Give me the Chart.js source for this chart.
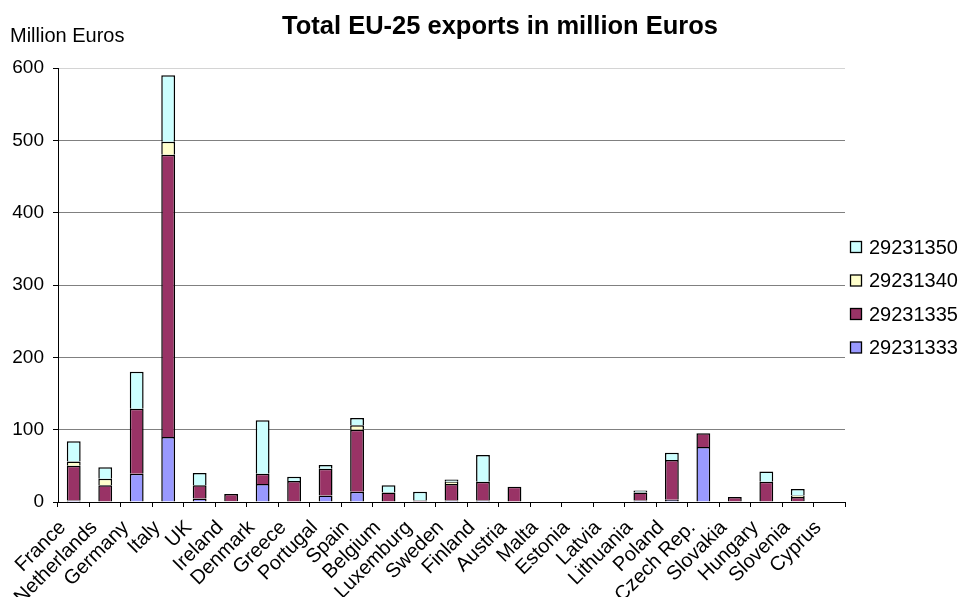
<!DOCTYPE html>
<html>
<head>
<meta charset="utf-8">
<title>Total EU-25 exports</title>
<script src="https://cdn.jsdelivr.net/npm/chart.js@4.4.1/dist/chart.umd.min.js"></script>
<style>
  body { margin: 0; background: #fff; }
</style>
</head>
<body>
<canvas id="exports" width="964" height="597"></canvas>
<script>
// --- DATA ---

const countries = ["France", "Netherlands", "Germany", "Italy", "UK", "Ireland", "Denmark",
  "Greece", "Portugal", "Spain", "Belgium", "Luxemburg", "Sweden", "Finland", "Austria",
  "Malta", "Estonia", "Latvia", "Lithuania", "Poland", "Czech Rep.", "Slovakia", "Hungary",
  "Slovenia", "Cyprus"];

// million Euros per product code, same order as countries
const code29231333 = [2, 0, 39, 90, 5, 1, 25, 0, 9, 14, 0, 0, 2, 2, 0, 0, 0, 0, 2, 3, 76, 0, 0, 1, 0];
const code29231335 = [48, 23, 90, 390, 18, 10, 14, 29, 37, 86, 13, 2, 23, 26, 21, 0, 0, 0, 11, 55, 19, 7, 28, 6, 0];
const code29231340 = [6, 9, 0, 18, 0, 0, 0, 0, 0, 6, 0, 0, 3, 0, 0, 0, 0, 0, 0, 0, 0, 0, 0, 2, 0];
const code29231350 = [28, 16, 51, 92, 17, 0, 74, 6, 5, 10, 10, 12, 3, 37, 0, 0, 0, 0, 3, 10, 0, 0, 14, 9, 0];

const yTicks = [0, 100, 200, 300, 400, 500, 600];

const TITLE = "Total EU-25 exports in million Euros";
const UNIT = "Million Euros";
const FONT = "'Liberation Sans', Arial, sans-serif";

// --- DATASETS ---

function makeSeries(label, data, color) {
  return {
    label: label,
    data: data,
    backgroundColor: color,
    borderColor: "#000",
    borderWidth: 1.5,
    categoryPercentage: 1,
    barPercentage: 0.44,
  };
}

const datasets = [
  makeSeries("29231333", code29231333, "#9999FF"),
  makeSeries("29231335", code29231335, "#993366"),
  makeSeries("29231340", code29231340, "#FFFFCC"),
  makeSeries("29231350", code29231350, "#CCFFFF"),
];

// title, unit caption and legend are painted by hand so they sit where we want them
const extraText = {
  id: "extraText",
  afterDraw(chart) {
    const ctx = chart.ctx;
    ctx.save();
    ctx.fillStyle = "#000";
    ctx.textBaseline = "alphabetic";

    ctx.font = "bold 25.5px " + FONT;
    ctx.textAlign = "center";
    ctx.fillText(TITLE, 500, 34);

    ctx.font = "20px " + FONT;
    ctx.textAlign = "left";
    ctx.fillText(UNIT, 10, 42);

    // legend, top item = last dataset
    const sets = chart.data.datasets;
    sets.slice().reverse().forEach((ds, i) => {
      const cy = 247 + i * 33.5;
      ctx.fillStyle = ds.backgroundColor;
      ctx.fillRect(850.5, cy - 5.5, 11, 11);
      ctx.strokeStyle = "#000";
      ctx.lineWidth = 1.3;
      ctx.strokeRect(850.5, cy - 5.5, 11, 11);
      ctx.fillStyle = "#000";
      ctx.textBaseline = "middle";
      ctx.fillText(ds.label, 869, cy + 1);
    });
    ctx.restore();
  },
};

// --- CHART ---

const exportsChart = new Chart(document.getElementById("exports"), {
  type: "bar",
  data: {
    labels: countries,
    datasets: datasets,
  },
  options: {
    responsive: false,
    animation: false,
    layout: {
      padding: { top: 68, right: 119, left: 12, bottom: 0 },
    },
    plugins: {
      legend: { display: false },
      title: { display: false },
      tooltip: { enabled: false },
    },
    scales: {
      x: {
        stacked: true,
        offset: true,
        // fixed band for the rotated names, long ones run off the bottom edge
        afterFit: (axis) => {
          axis.height = 95;
        },
        grid: {
          offset: true,
          drawOnChartArea: false,
          tickLength: 5,
          tickColor: "#000",
        },
        border: { color: "#000", width: 1 },
        ticks: {
          autoSkip: false,
          minRotation: 45,
          maxRotation: 45,
          color: "#000",
          padding: 9,
          labelOffset: -11,
          font: { family: FONT, size: 20 },
        },
      },
      y: {
        stacked: true,
        min: yTicks[0],
        max: yTicks[yTicks.length - 1],
        afterBuildTicks: (axis) => {
          axis.ticks = yTicks.map((v) => ({ value: v }));
        },
        afterFit: (axis) => {
          axis.width = 46;
        },
        grid: {
          color: (c) => (c.tick && c.tick.value === 600 ? "#d4d4d4" : "#808080"),
          tickColor: "#000",
          tickLength: 5,
        },
        border: { color: "#000", width: 1 },
        ticks: {
          color: "#000",
          padding: 9,
          font: { family: FONT, size: 19 },
        },
      },
    },
  },
  plugins: [extraText],
});
</script>
</body>
</html>
